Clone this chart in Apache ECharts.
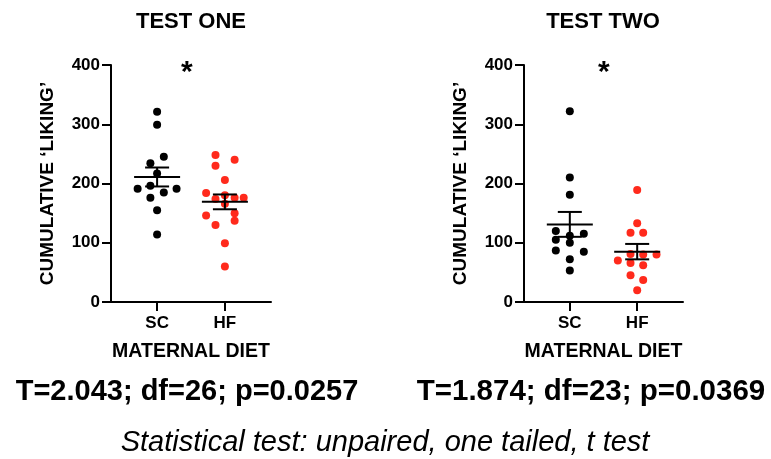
<!DOCTYPE html>
<html>
<head>
<meta charset="utf-8">
<script src="https://cdn.jsdelivr.net/npm/echarts@6/dist/echarts.min.js"></script>
<style>
html,body{margin:0;padding:0;background:#fff;}
#chart{width:771px;height:459px;}
</style>
</head>
<body>
<div id="chart"></div>
<script>
// ---- data ----
const categories = ['SC', 'HF'];
const yTicks = [0, 100, 200, 300, 400];

// TEST ONE
const t1ScValues = [321, 299, 245, 234, 217, 196, 191, 191, 185, 176, 155, 114];
const t1ScJitter = [0, 0, 1, -1, 0, -1, -2.9, 2.9, 1, -1, 0, 0];
const t1HfValues = [248, 240, 230, 206, 184, 174, 180, 176, 176, 166, 146, 150, 130, 137, 99, 60];
const t1HfJitter = [-1.4, 1.45, -1.4, 0, -2.8, -1.4, 0, 1.45, 2.8, 0, -2.8, 1.45, -1.4, 1.45, 0, 0];
const t1Mean = [211, 169];
const t1Sem = [16, 12.5];

// TEST TWO
const t2ScValues = [322, 210, 181, 120, 115, 112, 105, 100, 87, 85, 72, 53];
const t2ScJitter = [0, 0, 0, -2.1, 2.1, 0, -2.1, 0, -2.1, 2.1, 0, 0];
const t2HfValues = [189, 133, 117, 117, 81, 80, 80, 70, 66, 62, 45, 37, 20];
const t2HfJitter = [0, 0, -1, 0.9, -1, 0.9, 2.9, -2.9, -1, 0.9, -1, 0.9, 0];
const t2Mean = [131, 85];
const t2Sem = [21, 13];

const titles = ['TEST ONE', 'TEST TWO'];
const stats = ['T=2.043; df=26; p=0.0257', 'T=1.874; df=23; p=0.0369'];
const footnote = 'Statistical test: unpaired, one tailed, t test';
const yName = 'CUMULATIVE \u2018LIKING\u2019';
const xName = 'MATERNAL DIET';

// ---- styling ----
const FONT = '"Liberation Sans", Arial, Helvetica, sans-serif';
const BLACK = '#000000';
const RED = '#ff2a1c';
const DOT = 0.099; // jitter step in x-axis units (one dot width)

function pts(values, jitter, cat) {
  return values.map((v, i) => [cat + jitter[i] * DOT, v]);
}

function meanData(mean, sem) {
  return mean.map((m, i) => [i + 1, m, sem[i]]);
}

function renderMean(params, api) {
  const x = api.value(0), m = api.value(1), s = api.value(2);
  const c = api.coord([x, m]);
  const hi = api.coord([x, m + s]);
  const lo = api.coord([x, m - s]);
  const st = { stroke: BLACK, lineWidth: 2 };
  const half = 23, cap = 12;
  return {
    type: 'group',
    children: [
      { type: 'line', shape: { x1: c[0] - half, y1: c[1], x2: c[0] + half, y2: c[1] }, style: st },
      { type: 'line', shape: { x1: c[0], y1: hi[1], x2: c[0], y2: lo[1] }, style: st },
      { type: 'line', shape: { x1: c[0] - cap, y1: hi[1], x2: c[0] + cap, y2: hi[1] }, style: st },
      { type: 'line', shape: { x1: c[0] - cap, y1: lo[1], x2: c[0] + cap, y2: lo[1] }, style: st }
    ]
  };
}

function xAxis(idx) {
  return {
    type: 'value', gridIndex: idx, min: 0.32, max: 2.68,
    splitLine: { show: false },
    axisLine: { show: true, onZero: false, lineStyle: { color: BLACK, width: 2 } },
    axisTick: { show: true, customValues: [1, 2], length: 9, lineStyle: { color: BLACK, width: 2 } },
    axisLabel: {
      customValues: [1, 2], margin: 13,
      formatter: v => categories[Math.round(v) - 1] || '',
      color: BLACK, fontFamily: FONT, fontWeight: 'bold', fontSize: 17
    },
    name: xName, nameLocation: 'middle', nameGap: 40,
    nameTextStyle: { color: BLACK, fontFamily: FONT, fontWeight: 'bold', fontSize: 19.5 }
  };
}

function yAxis(idx) {
  return {
    type: 'value', gridIndex: idx, min: yTicks[0], max: yTicks[yTicks.length - 1], interval: 100,
    splitLine: { show: false },
    axisLine: { show: true, onZero: false, lineStyle: { color: BLACK, width: 2 } },
    axisTick: { show: true, length: 9, lineStyle: { color: BLACK, width: 2 } },
    axisLabel: { margin: 11, color: BLACK, fontFamily: FONT, fontWeight: 'bold', fontSize: 17 },
    name: yName, nameLocation: 'middle', nameGap: 54, nameRotate: 90,
    nameTextStyle: { color: BLACK, fontFamily: FONT, fontWeight: 'bold', fontSize: 19 }
  };
}

function scatter(idx, data, color) {
  return {
    type: 'scatter', xAxisIndex: idx, yAxisIndex: idx, data: data,
    symbol: 'circle', symbolSize: 8, itemStyle: { color: color, opacity: 1 },
    silent: true, z: 2
  };
}

function meanSeries(idx, mean, sem) {
  return {
    type: 'custom', xAxisIndex: idx, yAxisIndex: idx,
    data: meanData(mean, sem), renderItem: renderMean, silent: true, z: 5
  };
}

const chart = echarts.init(document.getElementById('chart'), null, { renderer: 'canvas' });
chart.setOption({
  animation: false,
  backgroundColor: '#ffffff',
  textStyle: { fontFamily: FONT },
  grid: [
    { left: 111, top: 65, width: 160, height: 237 },
    { left: 524, top: 65, width: 159, height: 237 }
  ],
  xAxis: [xAxis(0), xAxis(1)],
  yAxis: [yAxis(0), yAxis(1)],
  series: [
    scatter(0, pts(t1ScValues, t1ScJitter, 1), BLACK),
    scatter(0, pts(t1HfValues, t1HfJitter, 2), RED),
    meanSeries(0, t1Mean, t1Sem),
    scatter(1, pts(t2ScValues, t2ScJitter, 1), BLACK),
    scatter(1, pts(t2HfValues, t2HfJitter, 2), RED),
    meanSeries(1, t2Mean, t2Sem)
  ],
  graphic: [
    { type: 'text', x: 191, y: 22, style: { text: titles[0], fill: BLACK, font: 'bold 22px ' + FONT, align: 'center', verticalAlign: 'middle' } },
    { type: 'text', x: 603, y: 22, style: { text: titles[1], fill: BLACK, font: 'bold 22px ' + FONT, align: 'center', verticalAlign: 'middle' } },
    { type: 'text', left: 181, top: 58, style: { text: '*', fill: BLACK, font: 'bold 30px ' + FONT } },
    { type: 'text', left: 598, top: 58, style: { text: '*', fill: BLACK, font: 'bold 30px ' + FONT } },
    { type: 'text', x: 187, y: 392, style: { text: stats[0], fill: BLACK, font: 'bold 29px ' + FONT, align: 'center', verticalAlign: 'middle' } },
    { type: 'text', x: 591, y: 392, style: { text: stats[1], fill: BLACK, font: 'bold 29.5px ' + FONT, align: 'center', verticalAlign: 'middle' } },
    { type: 'text', x: 385, y: 443, style: { text: footnote, fill: BLACK, font: 'italic 29px ' + FONT, align: 'center', verticalAlign: 'middle' } }
  ]
});
</script>
</body>
</html>
